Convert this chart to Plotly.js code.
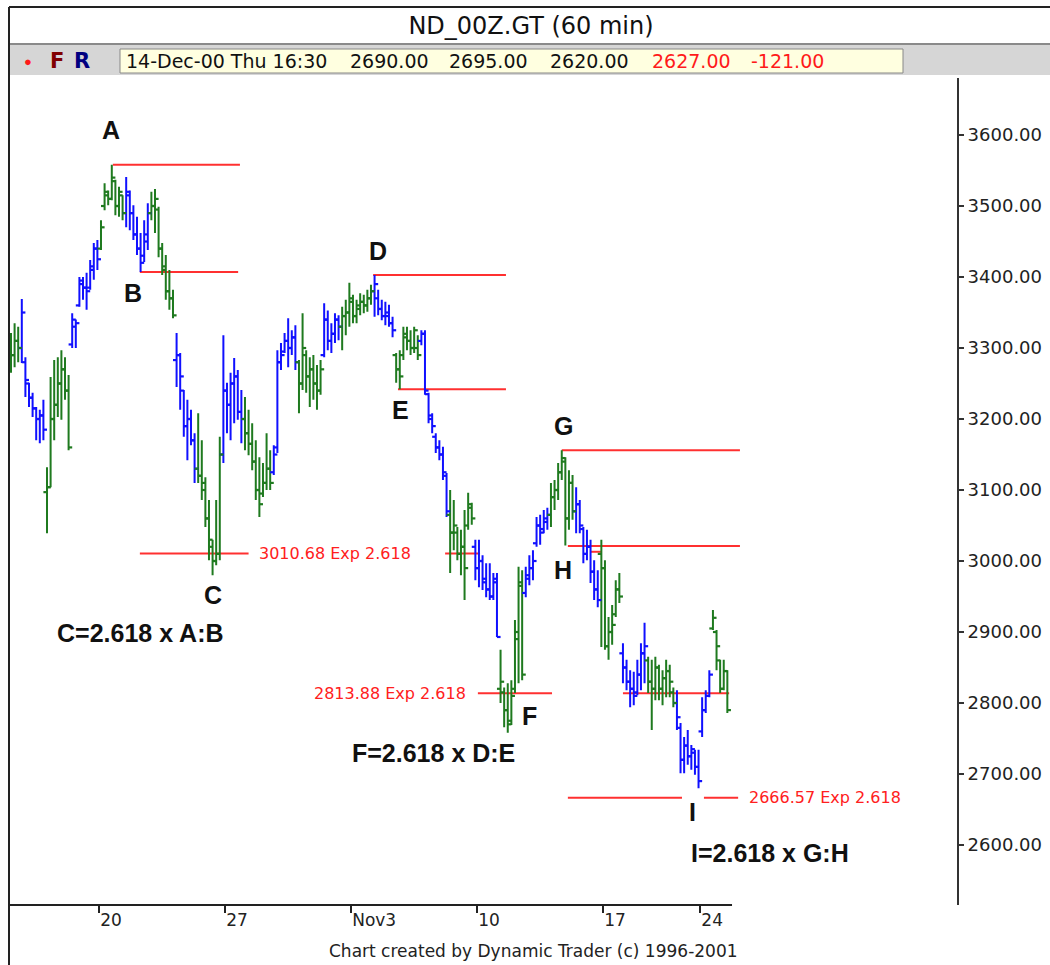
<!DOCTYPE html>
<html><head><meta charset="utf-8">
<script src="https://cdn.plot.ly/plotly-3.0.1.min.js"></script>
<style>html,body{margin:0;padding:0;background:#fff}#chart{width:1050px;height:965px}</style>
</head><body><div id="chart"></div>
<script>
// ---- data (60-min bars, bar index 0 = first bar shown) ----
const highs = [
3321,3335,3330,3369,3287,3251,3237,3217,3213,3227,
3132,3259,3283,3287,3297,3287,3262,3349,3340,3400,
3400,3406,3424,3448,3452,3480,3532,3522,3558,3537,
3527,3515,3541,3522,3501,3485,3462,3480,3504,3520,
3524,3499,3448,3431,3410,3382,3321,3293,3241,3227,
3213,3180,3208,3170,3118,3086,3030,3086,3175,3318,
3251,3265,3286,3269,3241,3231,3213,3194,3170,3146,
3138,3180,3156,3163,3297,3307,3321,3342,3325,3332,
3283,3349,3297,3287,3290,3276,3283,3363,3353,3335,
3349,3346,3358,3368,3392,3375,3368,3377,3375,3382,
3389,3403,3382,3368,3365,3361,3344,3293,3297,3330,
3330,3325,3330,3318,3325,3325,3237,3208,3180,3170,
3161,3124,3100,3086,3048,3044,3072,3096,3082,3030,
3030,3008,2997,2997,2983,2983,2875,2822,2828,2832,
2917,2992,2987,2992,3008,3015,3062,3065,3072,3075,
3110,3114,3138,3156,3146,3128,3121,3104,3086,3048,
3044,3030,3001,2987,3030,3001,2921,2938,2973,2983,
2884,2861,2846,2844,2861,2884,2913,2865,2861,2865,
2854,2846,2861,2854,2822,2818,2772,2752,2762,2741,
2734,2734,2808,2818,2846,2931,2903,2861,2861,2846];
const lows = [
3265,3273,3280,3279,3231,3217,3203,3170,3166,3170,
3039,3104,3170,3203,3199,3227,3156,3300,3300,3358,
3368,3354,3382,3396,3410,3438,3494,3501,3508,3487,
3485,3480,3470,3466,3452,3431,3407,3421,3438,3480,
3462,3428,3403,3368,3354,3342,3245,3213,3175,3142,
3163,3110,3110,3086,3048,3001,2980,2994,3001,3138,
3180,3170,3194,3199,3166,3156,3149,3128,3086,3062,
3090,3100,3100,3121,3152,3269,3293,3273,3290,3269,
3208,3241,3237,3217,3227,3213,3234,3287,3297,3293,
3307,3311,3297,3318,3330,3335,3335,3346,3349,3351,
3361,3344,3346,3339,3332,3330,3315,3251,3242,3283,
3297,3290,3293,3283,3304,3234,3194,3180,3152,3142,
3114,3062,2983,3015,3001,2980,2945,3044,3051,2973,
2963,2959,2949,2945,2945,2893,2800,2766,2758,2769,
2814,2828,2832,2949,2966,2973,3020,3023,3039,3044,
3048,3072,3086,3114,3022,3044,3058,3039,3039,2997,
3001,2969,2945,2935,2879,2875,2861,2882,2921,2941,
2828,2818,2794,2797,2811,2818,2828,2814,2762,2804,
2804,2797,2808,2808,2794,2762,2701,2701,2713,2706,
2699,2680,2752,2786,2808,2903,2846,2814,2818,2786];
const opens = [
3300,3290,3310,3300,3280,3250,3230,3215,3200,3205,
3097,3104,3200,3220,3250,3270,3240,3305,3330,3360,
3390,3385,3385,3410,3440,3440,3500,3515,3510,3535,
3500,3515,3490,3515,3490,3460,3440,3430,3450,3490,
3500,3495,3440,3410,3380,3370,3283,3290,3240,3190,
3200,3170,3130,3120,3100,3060,3020,3000,3010,3150,
3240,3220,3250,3260,3210,3200,3180,3165,3140,3100,
3095,3110,3130,3125,3160,3280,3295,3310,3300,3315,
3280,3250,3290,3260,3270,3250,3240,3290,3340,3310,
3320,3340,3330,3345,3350,3365,3345,3355,3365,3360,
3370,3380,3370,3355,3345,3345,3335,3290,3270,3290,
3315,3310,3300,3300,3310,3320,3235,3200,3175,3160,
3150,3120,3065,3040,3040,3010,3020,3050,3075,3020,
2990,3000,2975,2960,2950,2975,2820,2815,2790,2775,
2820,2890,2965,2955,2975,2990,3025,3050,3045,3055,
3065,3090,3100,3125,3140,3060,3110,3070,3080,3045,
3010,3020,2985,2960,3010,2990,2880,2900,2925,2960,
2870,2850,2830,2820,2815,2840,2870,2860,2830,2820,
2850,2820,2835,2845,2815,2800,2765,2720,2740,2725,
2730,2710,2760,2790,2810,2905,2900,2860,2820,2845];
const closes = [
3290,3310,3300,3350,3255,3230,3215,3200,3205,3185,
3104,3200,3220,3250,3270,3240,3160,3340,3335,3395,
3385,3380,3415,3440,3425,3470,3520,3510,3540,3500,
3520,3490,3520,3490,3460,3440,3420,3460,3490,3500,
3510,3440,3415,3380,3370,3346,3290,3260,3190,3200,
3170,3130,3120,3110,3060,3030,3000,3010,3150,3240,
3220,3250,3260,3210,3200,3180,3165,3140,3100,3080,
3110,3130,3110,3150,3280,3290,3310,3300,3315,3280,
3250,3300,3260,3270,3250,3240,3270,3340,3310,3320,
3340,3330,3345,3350,3370,3345,3360,3365,3360,3370,
3380,3390,3355,3345,3350,3335,3325,3270,3260,3320,
3310,3300,3325,3290,3320,3240,3205,3190,3160,3150,
3125,3070,3040,3050,3010,3020,2990,3080,3060,2990,
3000,2970,2960,2950,2970,2893,2830,2790,2770,2810,
2900,2970,2840,2980,2990,3000,3050,3040,3060,3065,
3090,3100,3125,3145,3060,3110,3070,3080,3050,3010,
3020,2985,2960,2945,2990,2880,2900,2910,2960,2950,
2850,2830,2820,2810,2840,2870,2880,2830,2820,2850,
2820,2835,2845,2830,2800,2780,2720,2740,2725,2735,
2710,2690,2790,2810,2840,2920,2880,2820,2845,2790];
// bar colouring runs: [colour key, number of bars]
const colorRuns = [['g',3],['b',7],['g',7],['b',8],['g',7],['b',7],['g',7],['b',6],['g',7],['b',6],
  ['g',8],['b',7],['g',7],['b',5],['g',9],['b',6],['g',7],['b',8],['g',7],['b',7],
  ['g',7],['b',7],['g',7],['b',7],['g',6],['b',7],['g',8],['b',10],['g',5]];
const dateTickPos = [24.5, 59.5, 94.5, 129.5, 164.5, 191.5];
const dateTickLabels = ['20', '27', 'Nov3', '10', '17', '24'];
const priceTicks = [2600, 2700, 2800, 2900, 3000, 3100, 3200, 3300, 3400, 3500, 3600];
const priceTickLabels = ['2600.00','2700.00','2800.00','2900.00','3000.00','3100.00','3200.00','3300.00','3400.00','3500.00','3600.00'];
// swing levels and Fibonacci targets: price, from bar, to bar
const levelPrices = [3558, 3407, 3010.68, 3403, 3242, 3010.68, 2813.88, 3156, 3021, 3013, 2813.88, 2666.57, 2666.57];
const levelFrom   = [28.3, 35.8, 35.8, 100.6, 107.5, 120.6, 129.7, 153, 154.7, 161, 170, 154.7, 192.5];
const levelTo     = [63.6, 63.1, 66, 137.5, 137.5, 130.3, 150.3, 202.5, 202.5, 164, 199.5, 186.4, 202];
const targetText  = ['3010.68 Exp 2.618', '2813.88 Exp 2.618', '2666.57 Exp 2.618'];
const targetPrice = [3010.68, 2813.88, 2666.57];
const targetBar   = [68.3, 126.9, 204.4];
const targetAnchor = ['left', 'right', 'left'];
const waveLabels = ['A','B','C','D','E','F','G','H','I'];
const waveBar    = [27.8, 33.9, 56.1, 101.9, 108.1, 143.9, 153.6, 153.3, 189.4];
const wavePrice  = [3607, 3377, 2952, 3437, 3213, 2782, 3190, 2987, 2646];
const ratioLabels = ['C=2.618 x A:B', 'F=2.618 x D:E', 'I=2.618 x G:H'];
const ratioBar   = [36.1, 117.5, 210.8];
const ratioPrice = [2899, 2730, 2589];
const infoFields = ['14-Dec-00 Thu 16:30', '2690.00', '2695.00', '2620.00', '2627.00', '-121.00'];
const infoColors = ['#111', '#111', '#111', '#111', '#ff1a1a', '#ff1a1a'];
const infoX = [124, 348, 447, 548, 650, 749];

// ---- build ----
const colorMap = {g: '#1f7a1f', b: '#1010ff'};
const barColor = [];
colorRuns.forEach(([c, n]) => { for (let k = 0; k < n; k++) barColor.push(c); });
const traces = [];
['b', 'g'].forEach(c => {
  const idx = [];
  for (let i = 0; i < highs.length; i++) if (barColor[i] === c) idx.push(i);
  traces.push({
    type: 'ohlc', x: idx,
    open: idx.map(i => opens[i]), high: idx.map(i => highs[i]),
    low: idx.map(i => lows[i]), close: idx.map(i => closes[i]),
    increasing: {line: {color: colorMap[c], width: 2}},
    decreasing: {line: {color: colorMap[c], width: 2}},
    tickwidth: 0.05, hoverinfo: 'none', showlegend: false
  });
  // open (left) and close (right) ticks
  const tx = [], ty = [];
  idx.forEach(i => {
    tx.push(i - 1.0, i, null, i, i + 1.0, null);
    ty.push(opens[i], opens[i], null, closes[i], closes[i], null);
  });
  traces.push({type: 'scatter', mode: 'lines', x: tx, y: ty, connectgaps: false,
    line: {color: colorMap[c], width: 2.2}, hoverinfo: 'skip', showlegend: false});
});

const L = 9, R = 957, T = 78, B = 905;
const px = x => (x - L) / (R - L);
const py = y => (B - y) / (B - T);

const shapes = [];
levelPrices.forEach((p, k) => shapes.push({type: 'line', xref: 'x', yref: 'y', layer: 'below',
  x0: levelFrom[k], x1: levelTo[k], y0: p, y1: p, line: {color: '#ff3030', width: 2}}));
// x-axis baseline up to last bar
shapes.push({type: 'line', xref: 'x', yref: 'paper', x0: -0.6, x1: 200.3, y0: 0, y1: 0, line: {color: '#222', width: 2}});
// window frame and info bar
shapes.push({type: 'line', xref: 'paper', yref: 'paper', x0: px(9), x1: px(1050), y0: py(7), y1: py(7), line: {color: '#222', width: 2}});
shapes.push({type: 'line', xref: 'paper', yref: 'paper', x0: px(9), x1: px(9), y0: py(7), y1: py(965), line: {color: '#222', width: 2}});
shapes.push({type: 'rect', xref: 'paper', yref: 'paper', x0: px(10), x1: px(1050), y0: py(44), y1: py(75), fillcolor: '#d6d6d6', line: {width: 0}});
shapes.push({type: 'line', xref: 'paper', yref: 'paper', x0: px(10), x1: px(1050), y0: py(44), y1: py(44), line: {color: '#8a8a8a', width: 2}});
shapes.push({type: 'rect', xref: 'paper', yref: 'paper', x0: px(120), x1: px(903), y0: py(49), y1: py(73), fillcolor: '#ffffe0', line: {color: '#888', width: 1}});

const annotations = [];
const bold = {family: 'Liberation Sans, Arial, sans-serif', size: 25, color: '#111'};
const base = {showarrow: false, xanchor: 'center', yanchor: 'middle'};
waveLabels.forEach((t, k) => annotations.push(Object.assign({}, base, {xref: 'x', yref: 'y', x: waveBar[k], y: wavePrice[k], text: '<b>' + t + '</b>', font: bold})));
ratioLabels.forEach((t, k) => annotations.push(Object.assign({}, base, {xref: 'x', yref: 'y', x: ratioBar[k], y: ratioPrice[k], text: '<b>' + t + '</b>', font: bold})));
targetText.forEach((t, k) => annotations.push(Object.assign({}, base, {xref: 'x', yref: 'y', x: targetBar[k], y: targetPrice[k], text: t, xanchor: targetAnchor[k],
  font: {family: 'DejaVu Sans, sans-serif', size: 16, color: '#ff2020'}})));
infoFields.forEach((t, k) => annotations.push(Object.assign({}, base, {xref: 'paper', yref: 'paper', x: px(infoX[k]), y: py(61), text: t, xanchor: 'left',
  font: {family: 'DejaVu Sans, sans-serif', size: 19, color: infoColors[k]}})));
annotations.push(Object.assign({}, base, {xref: 'paper', yref: 'paper', x: px(28), y: py(61), text: '●', font: {size: 13, color: '#ff1a1a'}}));
annotations.push(Object.assign({}, base, {xref: 'paper', yref: 'paper', x: px(57), y: py(61), text: '<b>F</b>', font: {family: 'DejaVu Sans, sans-serif', size: 21, color: '#800000'}}));
annotations.push(Object.assign({}, base, {xref: 'paper', yref: 'paper', x: px(82), y: py(61), text: '<b>R</b>', font: {family: 'DejaVu Sans, sans-serif', size: 21, color: '#000080'}}));
annotations.push(Object.assign({}, base, {xref: 'paper', yref: 'paper', x: px(533), y: py(951), text: 'Chart created by Dynamic Trader (c) 1996-2001',
  font: {family: 'DejaVu Sans, sans-serif', size: 17, color: '#222'}}));

const layout = {
  width: 1050, height: 965,
  margin: {l: L, r: 1050 - R, t: T, b: 965 - B, pad: 0},
  paper_bgcolor: '#fff', plot_bgcolor: '#fff', showlegend: false, dragmode: false,
  title: {text: 'ND_00Z.GT (60 min)', xref: 'container', yref: 'container', x: 531 / 1050, y: 1 - 26 / 965,
    xanchor: 'center', yanchor: 'middle', font: {family: 'DejaVu Sans, sans-serif', size: 24, color: '#111'}},
  xaxis: {range: [-0.556, 262.8], rangeslider: {visible: false}, showgrid: false, zeroline: false, showline: false,
    tickmode: 'array', tickvals: dateTickPos, ticktext: dateTickLabels, ticks: 'outside', ticklen: 7, tickwidth: 2, tickcolor: '#222',
    ticklabelposition: 'outside right', tickfont: {family: 'DejaVu Sans, sans-serif', size: 17, color: '#222'}, fixedrange: true},
  yaxis: {range: [2515.5, 3680.3], side: 'right', showgrid: false, zeroline: false, showline: true, linecolor: '#333', linewidth: 2,
    tickmode: 'array', tickvals: priceTicks, ticktext: priceTickLabels, ticks: 'outside', ticklen: 5, tickwidth: 1.5, tickcolor: '#333',
    tickfont: {family: 'DejaVu Sans, sans-serif', size: 18, color: '#222'}, fixedrange: true},
  shapes: shapes, annotations: annotations
};
Plotly.newPlot('chart', traces, layout, {staticPlot: true, displayModeBar: false});
</script></body></html>
